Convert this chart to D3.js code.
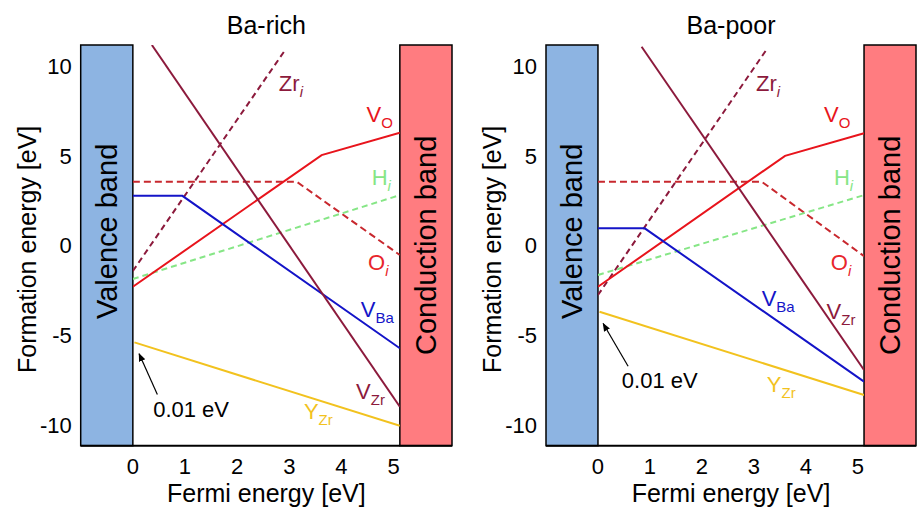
<!DOCTYPE html>
<html>
<head>
<meta charset="utf-8">
<script src="https://cdn.jsdelivr.net/npm/d3@7"></script>
<style>
  body { margin: 0; background: #fff; }
  svg { display: block; font-family: "Liberation Sans", Arial, sans-serif; }
</style>
</head>
<body>
<svg id="chart" width="922" height="525"></svg>
<script>
// ---------- DATA ----------
const panelTitles = ["Ba-rich", "Ba-poor"];
const xTicks = [0, 1, 2, 3, 4, 5];
const yTicks = [10, 5, 0, -5, -10];
const bandGap = 5.12;
const xDomain = [-1, 6.12];
const yDomain = [-11.17, 11.17];

// defect names and styles (order of drawing)
const defects = ["O_i", "Zr_i", "H_i", "V_O", "V_Ba", "V_Zr", "Y_Zr"];

// Ba-rich formation energies: [Fermi energy, formation energy] vertices
const richVZr  = [[0.365, 11.17], [5.12, -9.0]];
const richZri  = [[0, -1.43], [2.93, 10.93]];
const richOi   = [[0, 3.55], [3.14, 3.55], [5.12, -0.54]];
const richVBa  = [[0, 2.76], [0.95, 2.76], [5.12, -5.74]];
const richVO   = [[0, -2.31], [3.62, 5.03], [5.12, 6.28]];
const richHi   = [[0, -1.88], [5.12, 2.80]];
const richYZr  = [[0.03, -5.41], [5.12, -10.06]];

// Ba-poor formation energies
const poorVZr  = [[0.84, 11.07], [5.12, -6.95]];
const poorZri  = [[0, -2.77], [3.26, 10.98]];
const poorOi   = [[0, 3.55], [3.15, 3.55], [5.12, -0.6]];
const poorVBa  = [[0, 0.95], [0.9, 0.95], [5.12, -7.6]];
const poorVO   = [[0, -2.31], [3.6, 4.99], [5.12, 6.25]];
const poorHi   = [[0, -1.65], [5.12, 2.80]];
const poorYZr  = [[0.03, -3.7], [5.12, -8.34]];

// label anchors (Fermi energy, formation energy)
const richLabelPos = { Zr_i: [2.80, 8.6], V_O: [4.48, 6.87], H_i: [4.58, 3.35], O_i: [4.51, -1.38],
                       V_Ba: [4.37, -3.98], V_Zr: [4.28, -8.58], Y_Zr: [3.28, -9.68] };
const poorLabelPos = { Zr_i: [3.04, 8.6], V_O: [4.35, 6.87], H_i: [4.54, 3.35], O_i: [4.48, -1.38],
                       V_Ba: [3.15, -3.38], V_Zr: [4.40, -4.12], Y_Zr: [3.25, -8.16] };

// "0.01 eV" annotation: text anchor and arrow (from -> to)
const richNote = { text: [0.39, -9.59], from: [0.47, -8.32], to: [0.12, -6.04] };
const poorNote = { text: [0.46, -7.97], from: [0.58, -6.74], to: [0.10, -4.36] };

// ---------- STYLES ----------
const style = {
  O_i:  { color: "#c8282e", dash: "7,4", label: "O", sub: "i", subItalic: true, labelColor: "#e8262c" },
  Zr_i: { color: "#8c1a3c", dash: "6,4", label: "Zr", sub: "i", subItalic: true, labelColor: "#8c1a3c" },
  H_i:  { color: "#86e686", dash: "6,4", label: "H", sub: "i", subItalic: true, labelColor: "#86e686" },
  V_O:  { color: "#e8141c", dash: null, label: "V", sub: "O", subItalic: false, labelColor: "#e8141c" },
  V_Ba: { color: "#1414c8", dash: null, label: "V", sub: "Ba", subItalic: false, labelColor: "#1414c8" },
  V_Zr: { color: "#8c1a3c", dash: null, label: "V", sub: "Zr", subItalic: false, labelColor: "#8c1a3c" },
  Y_Zr: { color: "#f2c21e", dash: null, label: "Y", sub: "Zr", subItalic: false, labelColor: "#f2c21e" }
};

const panels = [
  { title: panelTitles[0], x0: 80.7, x1: 452,
    lines: { O_i: richOi, Zr_i: richZri, H_i: richHi, V_O: richVO, V_Ba: richVBa, V_Zr: richVZr, Y_Zr: richYZr },
    labels: richLabelPos, note: richNote },
  { title: panelTitles[1], x0: 546, x1: 916,
    lines: { O_i: poorOi, Zr_i: poorZri, H_i: poorHi, V_O: poorVO, V_Ba: poorVBa, V_Zr: poorVZr, Y_Zr: poorYZr },
    labels: poorLabelPos, note: poorNote }
];

const svg = d3.select("#chart");
const defs = svg.append("defs");
defs.append("marker").attr("id", "arrow").attr("viewBox", "0 0 10 10")
  .attr("refX", 9).attr("refY", 5).attr("markerWidth", 7).attr("markerHeight", 7)
  .attr("orient", "auto-start-reverse")
  .append("path").attr("d", "M0,1 L10,5 L0,9 Z").attr("fill", "#000");

const yTop = 45, yBot = 445.7;

panels.forEach((p, pi) => {
  const x = d3.scaleLinear().domain(xDomain).range([p.x0, p.x1]);
  const y = d3.scaleLinear().domain(yDomain).range([yBot, yTop]);
  const g = svg.append("g");

  const clipId = "clip" + pi;
  defs.append("clipPath").attr("id", clipId).append("rect")
    .attr("x", x(0)).attr("y", y(yDomain[1]))
    .attr("width", x(bandGap) - x(0)).attr("height", y(yDomain[0]) - y(yDomain[1]));

  // bands
  g.append("rect").attr("x", x(-1)).attr("y", y(yDomain[1]))
    .attr("width", x(0) - x(-1)).attr("height", y(yDomain[0]) - y(yDomain[1]))
    .attr("fill", "#8db4e2").attr("stroke", "#000").attr("stroke-width", 1.5);
  g.append("rect").attr("x", x(bandGap)).attr("y", y(yDomain[1]))
    .attr("width", x(xDomain[1]) - x(bandGap)).attr("height", y(yDomain[0]) - y(yDomain[1]))
    .attr("fill", "#ff7c80").attr("stroke", "#000").attr("stroke-width", 1.5);

  // bottom axis line
  g.append("line").attr("x1", x(xDomain[0])).attr("x2", x(xDomain[1]))
    .attr("y1", y(yDomain[0])).attr("y2", y(yDomain[0]))
    .attr("stroke", "#000").attr("stroke-width", 2);

  // band labels
  const midY = (y(yDomain[0]) + y(yDomain[1])) / 2;
  g.append("text").attr("transform", `translate(${(x(-1) + x(0)) / 2 + 10},${midY - 14}) rotate(-90)`)
    .attr("text-anchor", "middle").attr("font-size", 29).attr("fill", "#000").text("Valence band");
  g.append("text").attr("transform", `translate(${(x(bandGap) + x(xDomain[1])) / 2 + 10},${midY}) rotate(-90)`)
    .attr("text-anchor", "middle").attr("font-size", 29).attr("fill", "#000").text("Conduction band");

  // defect lines
  const lineGen = d3.line().x(d => x(d[0])).y(d => y(d[1]));
  const lg = g.append("g").attr("clip-path", `url(#${clipId})`);
  defects.forEach(k => {
    const s = style[k];
    lg.append("path").attr("d", lineGen(p.lines[k]))
      .attr("fill", "none").attr("stroke", s.color).attr("stroke-width", 2)
      .attr("stroke-dasharray", s.dash);
  });

  // defect labels
  defects.forEach(k => {
    const s = style[k];
    const pos = p.labels[k];
    const t = g.append("text").attr("x", x(pos[0])).attr("y", y(pos[1]))
      .attr("font-size", 22).attr("fill", s.labelColor);
    t.append("tspan").text(s.label);
    t.append("tspan").attr("dy", 6).attr("font-size", 15)
      .attr("font-style", s.subItalic ? "italic" : "normal").text(s.sub);
  });

  // note
  g.append("line").attr("x1", x(p.note.from[0])).attr("y1", y(p.note.from[1]))
    .attr("x2", x(p.note.to[0])).attr("y2", y(p.note.to[1]))
    .attr("stroke", "#000").attr("stroke-width", 1.2).attr("marker-end", "url(#arrow)");
  g.append("text").attr("x", x(p.note.text[0])).attr("y", y(p.note.text[1]))
    .attr("font-size", 22).attr("fill", "#000").text("0.01 eV");

  // x tick labels
  g.selectAll(".xt").data(xTicks).enter().append("text")
    .attr("x", d => x(d)).attr("y", 474).attr("text-anchor", "middle")
    .attr("font-size", 22).attr("fill", "#000").text(d => d);
  // y tick labels
  g.selectAll(".yt").data(yTicks).enter().append("text")
    .attr("x", x(-1) - 9).attr("y", d => y(d)).attr("dy", "0.36em").attr("text-anchor", "end")
    .attr("font-size", 22).attr("fill", "#000").text(d => d);

  // axis titles
  g.append("text").attr("x", (x(0) + x(bandGap)) / 2).attr("y", 502).attr("text-anchor", "middle")
    .attr("font-size", 25).attr("fill", "#000").text("Fermi energy [eV]");
  g.append("text").attr("transform", `translate(${x(-1) - 45},${midY + 4}) rotate(-90)`)
    .attr("text-anchor", "middle").attr("font-size", 25).attr("fill", "#000").text("Formation energy [eV]");
  // panel title
  g.append("text").attr("x", (x(0) + x(bandGap)) / 2).attr("y", 34).attr("text-anchor", "middle")
    .attr("font-size", 25).attr("fill", "#000").text(p.title);
});
</script>
</body>
</html>
